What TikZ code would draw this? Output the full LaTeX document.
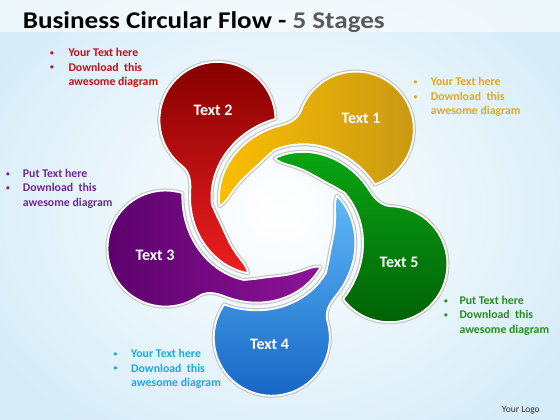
\documentclass[tikz,border=0pt]{standalone}
\usepackage{fontspec}
\setmainfont{Carlito}
\definecolor{bgblue}{RGB}{214,236,248}
\definecolor{titlegray}{RGB}{89,89,89}
\definecolor{redtxt}{RGB}{192,16,24}
\definecolor{yeltxt}{RGB}{226,168,30}
\definecolor{purtxt}{RGB}{112,40,150}
\definecolor{grntxt}{RGB}{40,140,30}
\definecolor{blutxt}{RGB}{30,168,224}
\definecolor{redA}{RGB}{135,0,0}
\definecolor{redB}{RGB}{238,30,32}
\definecolor{yelA}{RGB}{250,190,0}
\definecolor{yelB}{RGB}{200,152,20}
\definecolor{grnA}{RGB}{10,165,20}
\definecolor{grnB}{RGB}{0,95,5}
\definecolor{bluA}{RGB}{95,185,248}
\definecolor{bluB}{RGB}{20,100,195}
\definecolor{purA}{RGB}{92,0,108}
\definecolor{purB}{RGB}{140,20,152}
\newcommand\petalpath{([shift={(118,0)}]-120.9:58) arc[start angle=-120.9, end angle=110, radius=58]
  .. controls +(200:10) and +(324.4:10) .. (40:94.34)
  -- plot[domain=40:117,samples=31,variable=\t] (\t:{62+0.42*(117-\t)})
  -- plot[smooth] coordinates {(117:62) (114:59.2) (108:56.6) (98:55.3) (85:55.2) (72:56.4) (62:59.2) (53:64) (45:70)}
  -- plot[domain=0:74.45,samples=30,variable=\t] ({45-\t}:{70+0.42*\t})
  -- cycle}
\newcommand\textblock[7]{%
  \node[bul, text=#5] (#1b1) at (#2,#4+1.2) {•};
  \node[btext, text=#5] (#1l1) at (#3,#4) {#6};
  \node[bul, text=#5] (#1b2) at (#2,#4-13.3) {•};
  \node[btext, text=#5] (#1l2) at (#3,#4-14.5) {#7};
  \node[btext, text=#5] (#1l3) at (#3,#4-29) {awesome diagram};}
\tikzset{
  petalshadow/.style={draw=black!22, line width=4.2pt, line join=round},
  petalfill/.style={draw=white, line width=1.8pt, line join=round},
  lobelabel/.style={text=white, font=\fontsize{16}{18}\selectfont\bfseries, inner sep=0pt},
  bul/.style={anchor=base, inner sep=0pt, font=\fontsize{7.5}{9}\selectfont\bfseries},
  btext/.style={anchor=base west, inner sep=0pt, font=\fontsize{11.8}{14}\selectfont\bfseries},
}
\begin{document}
\begin{tikzpicture}[x=1pt,y=1pt]
\useasboundingbox (0,0) rectangle (560,420);
\shade[inner color=white, outer color=bgblue] (-60,-60) rectangle (620,480);
\fill[white, opacity=0.6] (0,388) rectangle (560,420);
% petals
\begin{scope}[shift={(280,200)}, rotate=50]
  \path[petalshadow] \petalpath;
  \path[petalfill, left color=yelA, right color=yelB] \petalpath;
\end{scope}
\begin{scope}[shift={(280,200)}, rotate=122]
  \path[petalshadow] \petalpath;
  \path[petalfill, top color=redA, bottom color=redB] \petalpath;
\end{scope}
\begin{scope}[shift={(280,200)}, rotate=194]
  \path[petalshadow] \petalpath;
  \path[petalfill, left color=purA, right color=purB] \petalpath;
\end{scope}
\begin{scope}[shift={(280,200)}, rotate=266]
  \path[petalshadow] \petalpath;
  \path[petalfill, top color=bluA, bottom color=bluB] \petalpath;
\end{scope}
\begin{scope}[shift={(280,200)}, rotate=338]
  \path[petalshadow] \petalpath;
  \path[petalfill, top color=grnA, bottom color=grnB] \petalpath;
\end{scope}
% labels
\node[lobelabel] (t1) at (361,301.3) {Text 1};
\node[lobelabel] (t2) at (213,310) {Text 2};
\node[lobelabel] (t3) at (155,164.2) {Text 3};
\node[lobelabel] (t4) at (269.5,76) {Text 4};
\node[lobelabel] (t5) at (399,157.5) {Text 5};
% title
\node[anchor=base west, inner sep=0pt, font=\fontsize{24}{28}\selectfont\bfseries] (title) at (22.7,391.7) {\scalebox{1.13}[1]{Business Circular Flow - \textcolor{titlegray}{5 Stages}}};
% text blocks
\textblock{red}{52}{68.3}{363.3}{redtxt}{Your Text here}{Download\ \ this}
\textblock{yel}{415.5}{430.7}{334}{yeltxt}{Your Text here}{Download\ \ this}
\textblock{pur}{8}{22.7}{242.7}{purtxt}{Put Text here}{Download\ \ this}
\textblock{grn}{446}{459.3}{115.7}{grntxt}{Put Text here}{Download\ \ this}
\textblock{blu}{115.5}{131}{62.3}{blutxt}{Your Text here}{Download\ \ this}
\node[anchor=base west, inner sep=0pt, font=\fontsize{9.5}{11}\selectfont, text=black!80] (logo) at (501.7,7.7) {Your Logo};
\end{tikzpicture}
\end{document}
